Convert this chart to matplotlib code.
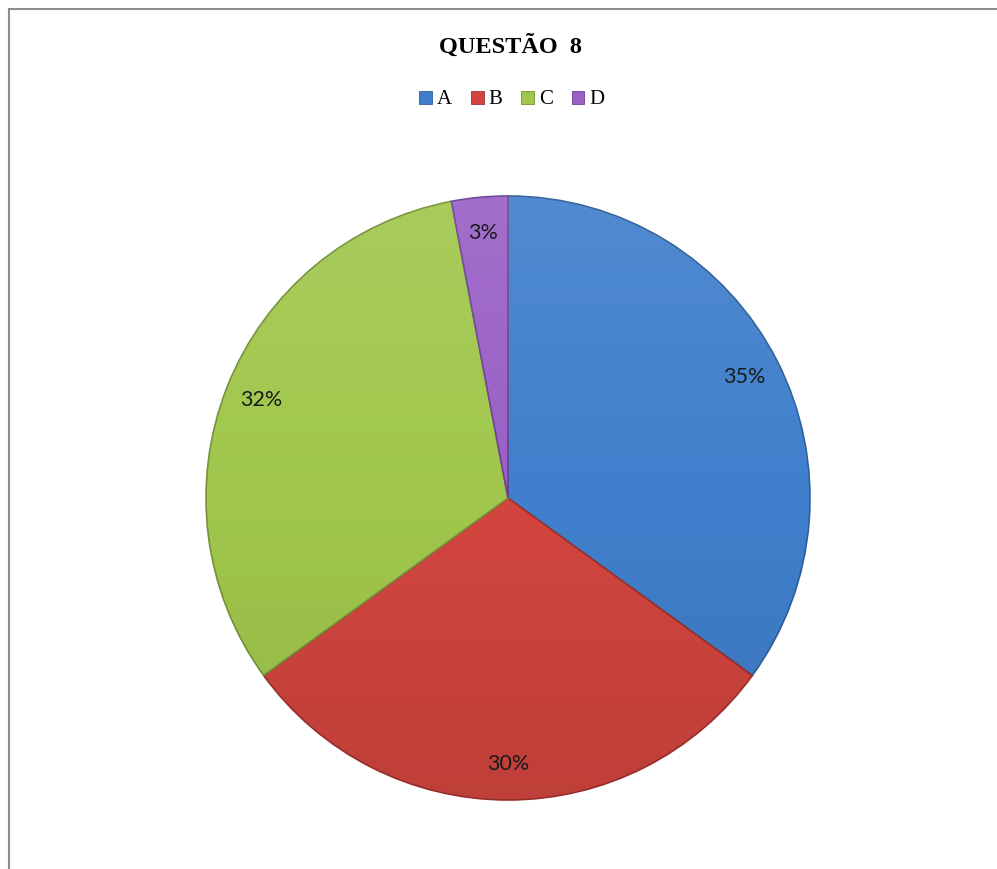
import matplotlib
matplotlib.use("Agg")
import matplotlib.pyplot as plt
import numpy as np
from matplotlib.patches import Patch, Rectangle, Circle

# answers to question 8 (percent of students)
labels = ["A", "B", "C", "D"]
shares = [35, 30, 32, 3]
colors = ["#407fcc", "#d2453f", "#a0c74c", "#9a60c6"]
edges = ["#2f5f9a", "#9c312d", "#76923a", "#6b4392"]

fig = plt.figure(figsize=(9.97, 8.69), dpi=100)

# chart frame
fig.patches.append(Rectangle((8.5 / 997, -0.1), 1.2, 1 - 9.5 / 869 + 0.1,
                             transform=fig.transFigure, fill=False,
                             edgecolor="#8c8c8c", linewidth=1.5))

cx, cy, r = 508 / 997, 1 - 498 / 869, 302
ax = fig.add_axes([cx - r / 997, cy - r / 869, 2 * r / 997, 2 * r / 869])

wedges, texts, autotexts = ax.pie(
    shares, colors=colors, startangle=90, counterclock=False,
    autopct="%.0f%%", pctdistance=0.88, radius=1,
    wedgeprops={"linewidth": 1.2},
    textprops={"fontsize": 15.5, "family": "Lato", "color": "#1a1a1a"})
for w, e in zip(wedges, edges):
    w.set_edgecolor(e)

# soft vertical shading across the pie
grad = np.linspace(0, 1, 256)[:, None]
shade = np.zeros((256, 1, 4))
shade[..., :3] = np.where(grad < 0.5, 1.0, 0.0)[..., None]
shade[..., 3] = np.abs(grad[:, 0:1] - 0.5) * 0.18
img = ax.imshow(shade, extent=[-1, 1, -1, 1], aspect="auto", zorder=1.5,
                interpolation="bilinear")
img.set_clip_path(Circle((0, 0), 1, transform=ax.transData))
for t in autotexts:
    t.set_zorder(3)

ax.set_xlim(-1, 1)
ax.set_ylim(-1, 1)
ax.axis("off")

fig.text(510 / 997, 1 - 46 / 869, "QUESTÃO  8", ha="center", va="center",
         fontsize=17.5, fontweight="bold", family="Liberation Serif")

handles = [Patch(facecolor=c, edgecolor=e, linewidth=0.6) for c, e in zip(colors, edges)]
fig.legend(handles, labels, loc="center", bbox_to_anchor=(512 / 997, 1 - 100 / 869),
           ncol=4, frameon=False, handlelength=0.6, handleheight=0.6,
           handletextpad=0.25, columnspacing=0.9,
           prop={"family": "Liberation Serif", "size": 15})

fig.savefig("out.png", dpi=100, facecolor="white")
